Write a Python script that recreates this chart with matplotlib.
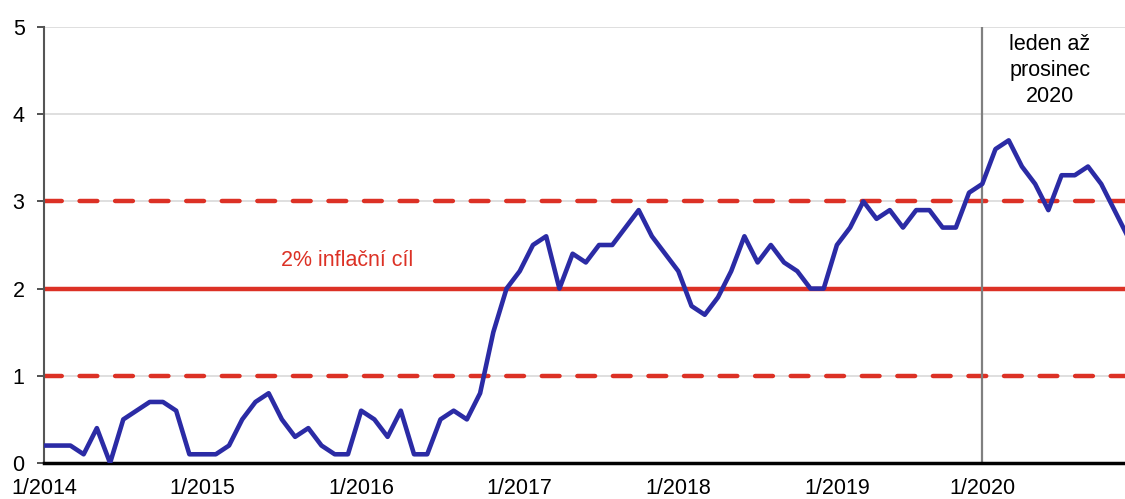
import matplotlib
matplotlib.use('Agg')
import matplotlib.pyplot as plt

plt.rcParams['font.family'] = ['Liberation Sans', 'DejaVu Sans']

# monthly inflation values, 1/2014 onwards
inflation = [0.2, 0.2, 0.2, 0.1, 0.4, 0.0, 0.5, 0.6, 0.7, 0.7, 0.6, 0.1,
             0.1, 0.1, 0.2, 0.5, 0.7, 0.8, 0.5, 0.3, 0.4, 0.2, 0.1, 0.1,
             0.6, 0.5, 0.3, 0.6, 0.1, 0.1, 0.5, 0.6, 0.5, 0.8, 1.5, 2.0,
             2.2, 2.5, 2.6, 2.0, 2.4, 2.3, 2.5, 2.5, 2.7, 2.9, 2.6, 2.4,
             2.2, 1.8, 1.7, 1.9, 2.2, 2.6, 2.3, 2.5, 2.3, 2.2, 2.0, 2.0,
             2.5, 2.7, 3.0, 2.8, 2.9, 2.7, 2.9, 2.9, 2.7, 2.7, 3.1, 3.2,
             3.6, 3.7, 3.4, 3.2, 2.9, 3.3, 3.3, 3.4, 3.2, 2.9, 2.6]
months = list(range(len(inflation)))

tick_pos = [0, 12, 24, 36, 48, 60, 71]
tick_labels = ['1/2014', '1/2015', '1/2016', '1/2017', '1/2018', '1/2019', '1/2020']
target = 2
band = [1, 3]
split_month = 71

red = '#dc3125'
blue = '#2b2ba5'
fs = 15.5

fig = plt.figure(figsize=(11.25, 4.99), dpi=100)
ax = fig.add_axes([44 / 1125, 36 / 499, 1 - 44 / 1125, 436 / 499])

ax.set_ylim(0, 5)
ax.set_xlim(0, 81.8)
ax.set_yticks([0, 1, 2, 3, 4, 5])
ax.yaxis.grid(True, color='#d9d9d9', lw=1.2)
ax.set_axisbelow(True)

ax.axhline(target, color=red, lw=3.2, zorder=2)
for b in band:
    ax.axhline(b, color=red, lw=3.2, ls=(0, (4, 4)), dash_capstyle='round', zorder=2)

ax.axvline(split_month, color='#808080', lw=1.6, zorder=2)

ax.plot(months, inflation, color=blue, lw=3.3, zorder=3, solid_joinstyle='round')

ax.text(22.9, 2.32, '2% inflační cíl', color=red, fontsize=fs, ha='center', va='center')
ax.text(76.1, 4.5, 'leden až\nprosinec\n2020', color='black', fontsize=fs,
        ha='center', va='center', linespacing=1.32)

ax.set_xticks(tick_pos)
ax.set_xticklabels(tick_labels)
ax.tick_params(axis='x', length=0, pad=11, labelsize=fs)
ax.tick_params(axis='y', length=5, width=1.2, pad=9, labelsize=fs, color='#333333')

for s in ['top', 'right']:
    ax.spines[s].set_visible(False)
ax.spines['left'].set_color('#555555')
ax.spines['left'].set_linewidth(1.5)
ax.spines['bottom'].set_color('black')
ax.spines['bottom'].set_linewidth(2.5)

fig.savefig('out.png', dpi=100)
